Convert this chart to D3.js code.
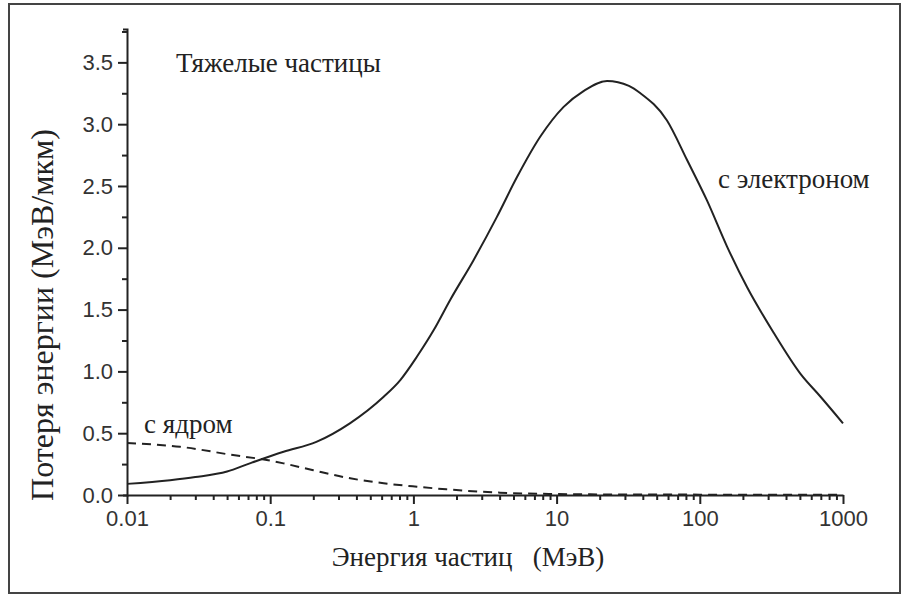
<!DOCTYPE html>
<html>
<head>
<meta charset="utf-8">
<script src="https://cdn.jsdelivr.net/npm/d3@7"></script>
<style>
  body { margin: 0; background: #fff; }
  svg { display: block; }
</style>
</head>
<body>
<svg id="chart" width="902" height="597"></svg>
<script>
// electron stopping (solid)
const elecEnergy = [0.01, 0.02, 0.03, 0.05, 0.072, 0.124, 0.21, 0.36, 0.62, 0.81, 1.06, 1.38, 1.81, 2.63, 3.83, 5.28, 7.7, 11.2, 15.5, 22.5, 32, 38.5, 59, 81.5, 112, 155, 214, 329, 505, 697, 1000];
const elecLoss = [0.09, 0.12, 0.145, 0.19, 0.256, 0.35, 0.43, 0.58, 0.795, 0.93, 1.12, 1.33, 1.58, 1.90, 2.25, 2.57, 2.90, 3.14, 3.27, 3.35, 3.31, 3.25, 3.03, 2.71, 2.385, 2.01, 1.68, 1.31, 0.98, 0.795, 0.58];
// nuclear stopping (dashed)
const nucEnergy = [0.01, 0.0235, 0.055, 0.0946, 0.124, 0.2, 0.362, 0.62, 1.06, 1.7, 4.0, 10, 30, 100, 1000];
const nucLoss = [0.42, 0.39, 0.323, 0.283, 0.256, 0.2, 0.135, 0.095, 0.067, 0.046, 0.019, 0.008, 0.004, 0.003, 0.002];

const xTicks = [0.01, 0.1, 1, 10, 100, 1000];
const xTickLabels = ["0.01", "0.1", "1", "10", "100", "1000"];
const yTicks = [0, 0.5, 1, 1.5, 2, 2.5, 3, 3.5];

const svg = d3.select("#chart");

// frame round the picture
svg.append("rect")
  .attr("x", 9).attr("y", 4)
  .attr("width", 891).attr("height", 589)
  .attr("fill", "none")
  .attr("stroke", "#444")
  .attr("stroke-width", 2);

const x = d3.scaleLog().domain([0.01, 1000]).range([127, 843]);
const y = d3.scaleLinear().domain([0, 3.77]).range([495, 29]);

const ink = "#222";

// minor ticks
const xMinor = [];
for (let d = 0.01; d < 1000; d *= 10) {
  for (let k = 2; k <= 9; k++) xMinor.push(d * k);
}
const yMinor = [0.25, 0.75, 1.25, 1.75, 2.25, 2.75, 3.25, 3.75];

const gx = svg.append("g").attr("transform", `translate(0,${y(0)})`);
gx.call(d3.axisBottom(x).tickValues(xMinor).tickSize(5).tickSizeOuter(0).tickFormat(""));
gx.call(g => g.select(".domain").remove());
const gx2 = svg.append("g").attr("transform", `translate(0,${y(0)})`);
gx2.call(d3.axisBottom(x).tickValues(xTicks).tickSize(9).tickSizeOuter(0).tickPadding(6)
  .tickFormat((d, i) => xTickLabels[i]));

const gy = svg.append("g").attr("transform", `translate(${x(0.01)},0)`);
gy.call(d3.axisLeft(y).tickValues(yMinor).tickSize(5).tickSizeOuter(0).tickFormat(""));
gy.call(g => g.select(".domain").remove());
const gy2 = svg.append("g").attr("transform", `translate(${x(0.01)},0)`);
gy2.call(d3.axisLeft(y).tickValues(yTicks).tickSize(9).tickSizeOuter(4).tickPadding(5)
  .tickFormat(d3.format(".1f")));

svg.selectAll(".domain, .tick line").attr("stroke", ink).attr("stroke-width", 2);
svg.selectAll(".tick text")
  .attr("fill", "#333")
  .style("font-family", '"Liberation Sans"')
  .style("font-size", "22px");

// curves
const line = d3.line()
  .x(d => x(d[0]))
  .y(d => y(d[1]))
  .curve(d3.curveMonotoneX);

svg.append("path")
  .datum(elecEnergy.map((e, i) => [e, elecLoss[i]]))
  .attr("d", line)
  .attr("fill", "none")
  .attr("stroke", ink)
  .attr("stroke-width", 2);

svg.append("path")
  .datum(nucEnergy.map((e, i) => [e, nucLoss[i]]))
  .attr("d", line)
  .attr("fill", "none")
  .attr("stroke", ink)
  .attr("stroke-width", 2)
  .attr("stroke-dasharray", "9,6");

// texts
const serif = '"Liberation Serif"';
const label = (tx, ty, s) => svg.append("text")
  .attr("x", tx).attr("y", ty)
  .attr("fill", ink)
  .style("font-family", serif)
  .style("font-size", "27px")
  .text(s);

label(176, 72, "Тяжелые частицы");
label(718, 188, "с электроном");
label(144, 433, "с ядром");

svg.append("text")
  .attr("x", 468).attr("y", 566)
  .attr("text-anchor", "middle")
  .attr("fill", ink)
  .style("font-family", serif)
  .style("font-size", "27px")
  .style("white-space", "pre")
  .text("Энергия частиц   (МэВ)");

svg.append("text")
  .attr("transform", "translate(53,315) rotate(-90)")
  .attr("text-anchor", "middle")
  .attr("fill", ink)
  .style("font-family", serif)
  .style("font-size", "32px")
  .text("Потеря энергии (МэВ/мкм)");
</script>
</body>
</html>
